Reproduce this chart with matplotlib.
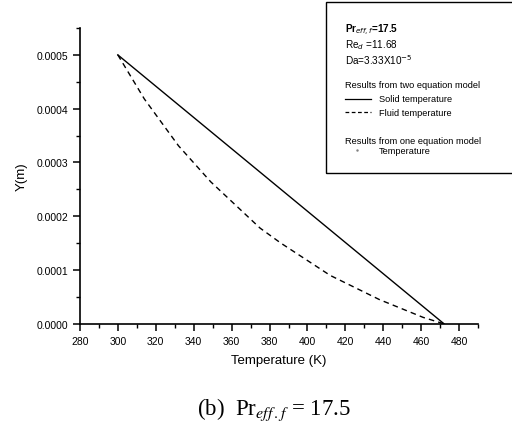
import numpy as np
import matplotlib as mpl
mpl.use('Agg')
import matplotlib.pyplot as plt
from matplotlib.ticker import MultipleLocator, FormatStrFormatter
from matplotlib.lines import Line2D

mpl.rcParams.update({
    "font.family": ["Liberation Sans", "DejaVu Sans"],
    "font.size": 8,
    "xtick.labelsize": 7.5,
    "ytick.labelsize": 7.5,
    "axes.linewidth": 1.2,
})

# solid temperature (two equation model)
solid_T = [300, 472]
solid_Y = [0.0005, 0.0]
# fluid temperature (two equation model)
fluid_T = [300, 314, 332, 349, 375, 386, 412, 438, 461, 472]
fluid_Y = [0.0005, 0.000418, 0.000331, 0.000264, 0.000178, 0.000150, 0.000090, 0.000045, 0.000012, 0.0]

fig = plt.figure(figsize=(5.12, 4.39), dpi=100)
ax = fig.add_axes([0.156, 0.260, 0.778, 0.674])

ax.plot(solid_T, solid_Y, color='black', lw=1.0)
ax.plot(fluid_T, fluid_Y, color='black', lw=1.0, ls=(0, (4, 3)))

ax.set_xlim(280, 490)
ax.set_ylim(0, 0.00055)
ax.xaxis.set_major_locator(MultipleLocator(20))
ax.xaxis.set_minor_locator(MultipleLocator(10))
ax.yaxis.set_major_locator(MultipleLocator(0.0001))
ax.yaxis.set_minor_locator(MultipleLocator(0.00005))
ax.yaxis.set_major_formatter(FormatStrFormatter('%.4f'))
ax.tick_params(which='major', direction='out', length=5, width=1.1)
ax.tick_params(which='minor', direction='out', length=3, width=1.0)
ax.spines['top'].set_visible(False)
ax.spines['right'].set_visible(False)

ax.set_xlabel('Temperature (K)', fontsize=9.5, labelpad=6)
ax.set_ylabel('Y(m)', fontsize=9.5, labelpad=6)

# legend / annotation box
box = plt.Rectangle((326 / 512, 1 - 174 / 439), 190 / 512, 171 / 439,
                    transform=fig.transFigure, fill=False, lw=1.0, color='black')
fig.add_artist(box)

def fy(py):
    return 1 - py / 439

x0 = 345 / 512
fig.text(x0, fy(30), r'Pr$_{eff,f}$=17.5', fontsize=7.2, fontweight='bold', va='center')
fig.text(x0, fy(45), r'Re$_d$ =11.68', fontsize=7.2, va='center')
fig.text(x0, fy(60), r'Da=3.33X10$^{-5}$', fontsize=7.2, va='center')
fig.text(x0, fy(86), 'Results from two equation model', fontsize=6.7, va='center')
fig.add_artist(Line2D([345 / 512, 371 / 512], [fy(100), fy(100)], transform=fig.transFigure,
                      color='black', lw=0.9))
fig.text(379 / 512, fy(100), 'Solid temperature', fontsize=6.7, va='center')
fig.add_artist(Line2D([345 / 512, 371 / 512], [fy(113), fy(113)], transform=fig.transFigure,
                      color='black', lw=0.9, ls=(0, (3, 2))))
fig.text(379 / 512, fy(113), 'Fluid temperature', fontsize=6.7, va='center')
fig.text(x0, fy(141), 'Results from one equation model', fontsize=6.7, va='center')
fig.add_artist(Line2D([357 / 512], [fy(151)], transform=fig.transFigure,
                      color='gray', marker='.', markersize=1.5, lw=0))
fig.text(379 / 512, fy(151), 'Temperature', fontsize=6.7, va='center')

fig.text(0.535, fy(410), r'(b)  Pr$_{eff\,.f}$ = 17.5', fontsize=16.5,
         family=['Liberation Serif', 'DejaVu Serif'], ha='center', va='center',
         math_fontfamily='stix')

fig.savefig('out.png', dpi=100)
